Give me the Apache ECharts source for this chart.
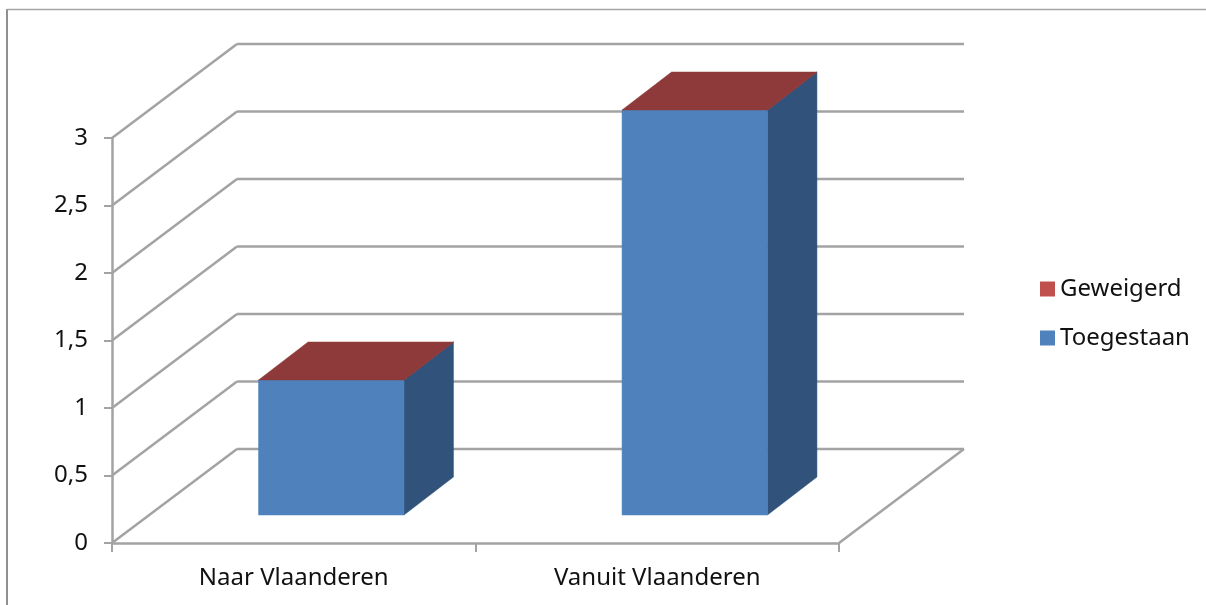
<!DOCTYPE html>
<html>
<head>
<meta charset="utf-8">
<style>
  html, body { margin: 0; padding: 0; background: #fff; }
  #chart { width: 1206px; height: 605px; }
</style>
<script src="https://cdn.jsdelivr.net/npm/echarts@6/dist/echarts.min.js"></script>
</head>
<body>
<div id="chart"></div>
<script>
const categories = ['Naar Vlaanderen', 'Vanuit Vlaanderen']
const toegestaan = [1, 3]
const geweigerd = [0, 0]
const yTicks = [0, 0.5, 1, 1.5, 2, 2.5, 3]

const FONT = '"Noto Sans", sans-serif'
const LINE = '#a3a3a3'
const LINE_W = 2.5

// fake 3D: the wall sits this many pixels behind the axis plane
const WALL_DX = 125
const WALL_DY = -94
// bars stand part way into the floor
const BAR_DX = 37.5
const BAR_DY = -28
const BAR_DEPTH_DX = 49.5
const BAR_DEPTH_DY = -38
const BAR_WIDTH = 0.4

const chart = echarts.init(document.getElementById('chart'))

const renderWall = (params, api) => {
  const sys = params.coordSys
  const y = api.coord([0, api.value(0)])[1]
  const line = (x1, y1, x2, y2) => ({
    type: 'line',
    shape: { x1, y1, x2, y2 },
    style: { stroke: LINE, lineWidth: LINE_W }
  })
  const wx = sys.x + WALL_DX
  const wy = y + WALL_DY
  const right = sys.x + sys.width + WALL_DX
  const children = [line(sys.x, y, wx, wy), line(wx, wy, right, wy)]
  // floor edge on the right, only for the zero line
  if (api.value(0) === 0) children.push(line(right, wy, sys.x + sys.width, y))
  return { type: 'group', children }
}

const poly = (points, fill) => ({
  type: 'polygon',
  shape: { points },
  style: { fill, stroke: fill, lineWidth: 0.5 }
})

const barBox = (api, base, top) => {
  const idx = api.value(0)
  const w = api.size([1, 0])[0] * BAR_WIDTH
  const b = api.coord([idx, base])
  const t = api.coord([idx, top])
  const left = b[0] - w / 2 + BAR_DX
  return { left, right: left + w, yb: b[1] + BAR_DY, yt: t[1] + BAR_DY }
}

const renderToegestaan = (params, api) => {
  const { left, right, yb, yt } = barBox(api, 0, api.value(1))
  return {
    type: 'group',
    children: [
      poly([[right, yb], [right + BAR_DEPTH_DX, yb + BAR_DEPTH_DY], [right + BAR_DEPTH_DX, yt + BAR_DEPTH_DY], [right, yt]], '#31527b'),
      poly([[left, yb], [right, yb], [right, yt], [left, yt]], '#4f81bd')
    ]
  }
}

// Geweigerd is 0 everywhere, so only its lid shows on top of the blue bar
const renderGeweigerd = (params, api) => {
  const i = api.value(0)
  const base = toegestaan[i]
  const { left, right, yb, yt } = barBox(api, base, base + api.value(1))
  return {
    type: 'group',
    children: [
      poly([[right, yb], [right + BAR_DEPTH_DX, yb + BAR_DEPTH_DY], [right + BAR_DEPTH_DX, yt + BAR_DEPTH_DY], [right, yt]], '#8e3a3a'),
      poly([[left, yt], [right, yt], [right + BAR_DEPTH_DX, yt + BAR_DEPTH_DY], [left + BAR_DEPTH_DX, yt + BAR_DEPTH_DY]], '#8e3a3a')
    ]
  }
}

chart.setOption({
  animation: false,
  backgroundColor: '#fff',
  textStyle: { fontFamily: FONT },
  grid: { left: 112, top: 138, width: 727, height: 405 },
  legend: {
    data: ['Geweigerd', 'Toegestaan'],
    orient: 'vertical',
    left: 1035,
    top: 272,
    icon: 'rect',
    itemWidth: 15,
    itemHeight: 15,
    itemGap: 25,
    textStyle: { color: '#111', fontSize: 24, fontFamily: FONT }
  },
  xAxis: {
    type: 'category',
    data: categories,
    axisLine: { lineStyle: { color: LINE, width: LINE_W } },
    axisTick: { show: true, length: 9, lineStyle: { color: LINE, width: 2 } },
    axisLabel: { color: '#111', fontSize: 24, margin: 23, fontFamily: FONT }
  },
  yAxis: {
    type: 'value',
    min: 0,
    max: 3,
    interval: 0.5,
    splitLine: { show: false },
    axisLine: { show: true, lineStyle: { color: LINE, width: LINE_W } },
    axisTick: { show: true, length: 8, lineStyle: { color: LINE, width: 2 } },
    axisLabel: {
      color: '#111',
      fontSize: 24,
      margin: 24,
      fontFamily: FONT,
      padding: [4, 0, 0, 0],
      formatter: (v) => String(v).replace('.', ',')
    }
  },
  graphic: [
    // frame of the original chart area
    { type: 'line', shape: { x1: 7, y1: 9, x2: 7, y2: 605 }, style: { stroke: '#909090', lineWidth: 2 } },
    { type: 'line', shape: { x1: 7, y1: 9.5, x2: 1206, y2: 9.5 }, style: { stroke: '#a6a6a6', lineWidth: 1.5 } }
  ],
  series: [
    {
      type: 'custom',
      name: 'wall',
      silent: true,
      clip: false,
      z: 1,
      renderItem: renderWall,
      encode: { y: 0 },
      data: yTicks.map((v) => [v])
    },
    {
      type: 'custom',
      name: 'Toegestaan',
      clip: false,
      z: 2,
      itemStyle: { color: '#4f81bd' },
      renderItem: renderToegestaan,
      data: toegestaan.map((v, i) => [i, v])
    },
    {
      type: 'custom',
      name: 'Geweigerd',
      clip: false,
      z: 3,
      itemStyle: { color: '#c0504d' },
      renderItem: renderGeweigerd,
      data: geweigerd.map((v, i) => [i, v])
    }
  ]
})
</script>
</body>
</html>
